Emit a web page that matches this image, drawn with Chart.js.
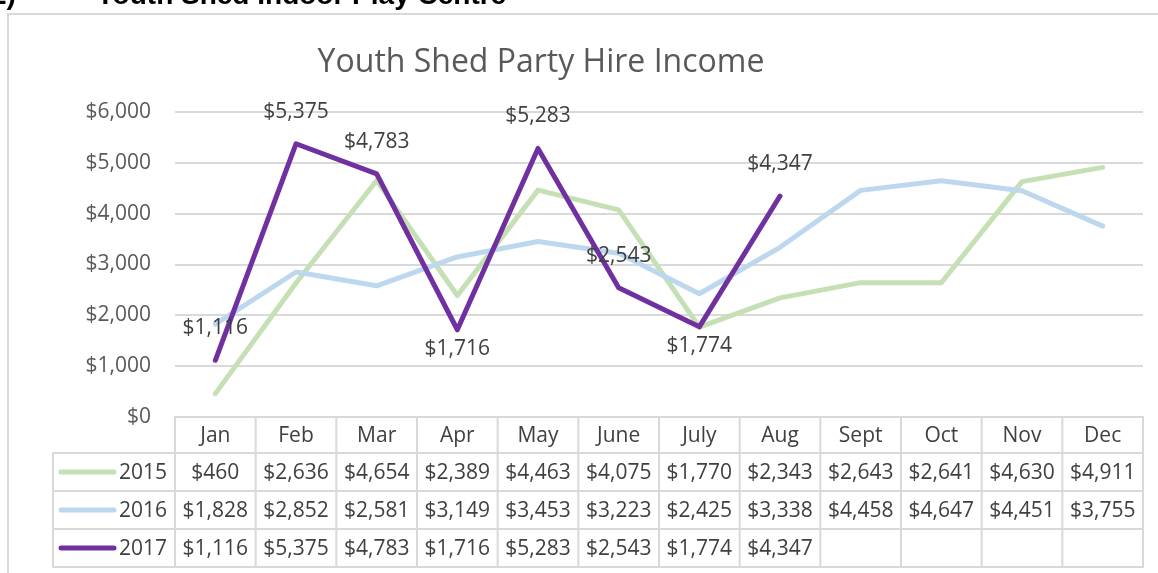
<!DOCTYPE html>
<html>
<head>
<meta charset="utf-8">
<script src="https://cdn.jsdelivr.net/npm/chart.js@4"></script>
<style>
  html, body { margin: 0; padding: 0; background: #fff; }
  #wrap { width: 1158px; height: 573px; position: relative; overflow: hidden; }
</style>
</head>
<body>
<div id="wrap"><canvas id="incomeChart" width="1158" height="573"></canvas></div>
<script>
// --- chart data ---
const months = ["Jan", "Feb", "Mar", "Apr", "May", "June", "July", "Aug", "Sept", "Oct", "Nov", "Dec"];
const years = ["2015", "2016", "2017"];
const income2015 = [460, 2636, 4654, 2389, 4463, 4075, 1770, 2343, 2643, 2641, 4630, 4911];
const income2016 = [1828, 2852, 2581, 3149, 3453, 3223, 2425, 3338, 4458, 4647, 4451, 3755];
const income2017 = [1116, 5375, 4783, 1716, 5283, 2543, 1774, 4347, null, null, null, null];
const yTicks = [0, 1000, 2000, 3000, 4000, 5000, 6000];

const FONT = "'Open Sans', sans-serif";
const colors = ["#C5E0B4", "#BDD7EE", "#7030A0"];

const money = (v) => "$" + v.toLocaleString("en-US");

// frame, page heading, title, data labels and data table
const extras = {
  id: "extras",
  beforeDraw(chart) {
    const ctx = chart.ctx;
    ctx.save();
    ctx.fillStyle = "#fff";
    ctx.fillRect(0, 0, chart.width, chart.height);
    ctx.strokeStyle = "#D9D9D9";
    ctx.lineWidth = 2;
    ctx.strokeRect(8, 14, 1200, 600);
    // page heading, cut off at the top
    ctx.fillStyle = "#000";
    ctx.font = "bold 28px 'Liberation Sans', sans-serif";
    ctx.textBaseline = "alphabetic";
    ctx.fillText("2)", -9, 4);
    ctx.fillText("Youth Shed Indoor Play Centre", 96, 4);
    // title
    ctx.fillStyle = "#595959";
    ctx.font = "32px " + FONT;
    ctx.textAlign = "center";
    ctx.textBaseline = "middle";
    ctx.fillText("Youth Shed Party Hire Income", 541, 63);
    ctx.restore();
  },
  afterDatasetsDraw(chart) {
    const ctx = chart.ctx;
    const meta = chart.getDatasetMeta(2);
    ctx.save();
    ctx.fillStyle = "#404040";
    ctx.font = "21px " + FONT;
    ctx.textAlign = "center";
    ctx.textBaseline = "middle";
    income2017.forEach((v, i) => {
      if (v === null) return;
      const pt = meta.data[i];
      const prev = income2017[i - 1], next = income2017[i + 1];
      const low = prev != null && next != null && v < prev && v < next;
      ctx.fillText(money(v), pt.x, low ? pt.y + 19 : pt.y - 32);
    });
    ctx.restore();
  },
  afterDraw(chart) {
    const ctx = chart.ctx;
    const x = chart.scales.x;
    const area = chart.chartArea;
    const half = (x.getPixelForTick(1) - x.getPixelForTick(0)) / 2;
    const top = area.bottom;
    const headH = 36, rowH = 38;
    const legendLeft = 53;
    const series = [income2015, income2016, income2017];

    ctx.save();
    ctx.strokeStyle = "#D9D9D9";
    ctx.lineWidth = 2;
    // header row
    ctx.strokeRect(area.left, top, area.right - area.left, headH + rowH * 3);
    ctx.strokeRect(legendLeft, top + headH, area.right - legendLeft, rowH * 3);
    ctx.beginPath();
    for (let r = 1; r < 3; r++) {
      ctx.moveTo(legendLeft, top + headH + rowH * r);
      ctx.lineTo(area.right, top + headH + rowH * r);
    }
    for (let i = 1; i < months.length; i++) {
      const cx = x.getPixelForTick(i) - half;
      ctx.moveTo(cx, top);
      ctx.lineTo(cx, top + headH + rowH * 3);
    }
    ctx.stroke();

    ctx.fillStyle = "#404040";
    ctx.font = "21px " + FONT;
    ctx.textAlign = "center";
    ctx.textBaseline = "middle";
    months.forEach((m, i) => {
      ctx.fillText(m, x.getPixelForTick(i), top + headH / 2 + 1);
    });
    series.forEach((data, r) => {
      const cy = top + headH + rowH * r + rowH / 2 + 1;
      ctx.textAlign = "center";
      data.forEach((v, i) => {
        if (v !== null) ctx.fillText(money(v), x.getPixelForTick(i), cy);
      });
      // legend key
      ctx.strokeStyle = colors[r];
      ctx.lineWidth = 5;
      ctx.lineCap = "round";
      ctx.beginPath();
      ctx.moveTo(61, cy - 1);
      ctx.lineTo(114, cy - 1);
      ctx.stroke();
      ctx.textAlign = "right";
      ctx.fillText(years[r], 167, cy);
    });
    ctx.restore();
  }
};

const series = [income2015, income2016, income2017].map((data, i) => ({
  label: years[i],
  data: data,
  borderColor: colors[i],
  backgroundColor: colors[i],
  borderWidth: 5,
  borderCapStyle: "round",
  borderJoinStyle: "round",
  pointRadius: 0,
  tension: 0,
  spanGaps: false,
  order: 3 - i
}));

new Chart(document.getElementById("incomeChart"), {
  type: "line",
  data: { labels: months, datasets: series },
  plugins: [extras],
  options: {
    responsive: false,
    animation: false,
    layout: { padding: { top: 112, right: 15, bottom: 156, left: 0 } },
    plugins: {
      legend: { display: false },
      tooltip: { enabled: false },
      title: { display: false }
    },
    scales: {
      x: {
        type: "category",
        offset: true,
        display: false
      },
      y: {
        min: yTicks[0],
        max: yTicks[yTicks.length - 1],
        afterBuildTicks(scale) {
          scale.ticks = yTicks.map((v) => ({ value: v }));
        },
        afterFit(scale) {
          scale.width = 175;
        },
        border: { display: false },
        grid: { color: "#D9D9D9", lineWidth: 2, drawTicks: false },
        ticks: {
          padding: 24,
          color: "#595959",
          font: { family: FONT, size: 21 },
          callback: (v) => money(v)
        }
      }
    }
  }
});
</script>
</body>
</html>
